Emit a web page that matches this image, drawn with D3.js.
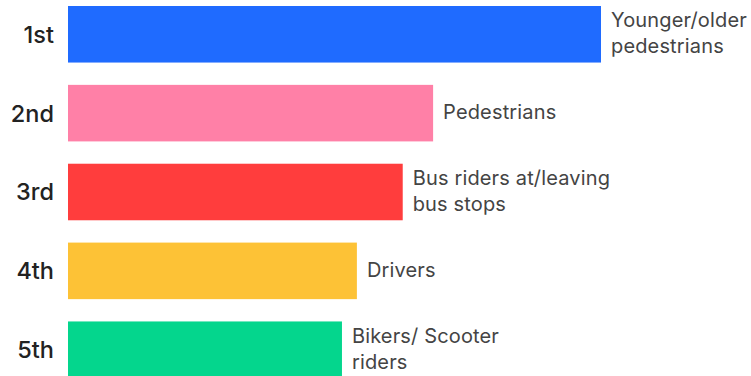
<!DOCTYPE html>
<html>
<head>
<meta charset="utf-8">
<script src="https://cdn.jsdelivr.net/npm/d3@7"></script>
<style>
  html, body { margin: 0; padding: 0; background: #ffffff; }
  svg { display: block; }
</style>
</head>
<body>
<svg id="chart" width="751" height="376"></svg>
<script>
// Ranking of road users, longest bar = highest rank
const ranks = ["1st", "2nd", "3rd", "4th", "5th"];
const groups = [
  ["Younger/older", "pedestrians"],
  ["Pedestrians"],
  ["Bus riders at/leaving", "bus stops"],
  ["Drivers"],
  ["Bikers/ Scooter", "riders"]
];
const scores = [100, 68.5, 62.8, 54.2, 51.4];
const colors = ["#1f6bff", "#ff80a7", "#ff3d3d", "#fdc236", "#04d68d"];

const svg = d3.select("#chart");
const font = "Inter, 'Noto Sans', sans-serif";

const x = d3.scaleLinear().domain([0, 100]).range([68, 601]);
const y = d3.scaleBand().domain(ranks).range([6, 378]).paddingInner(0.283).paddingOuter(0);

const rows = ranks.map((r, i) => ({ rank: r, label: groups[i], value: scores[i], color: colors[i] }));

svg.selectAll("rect.bar")
  .data(rows)
  .join("rect")
  .attr("class", "bar")
  .attr("x", x(0))
  .attr("y", d => y(d.rank))
  .attr("width", d => x(d.value) - x(0))
  .attr("height", y.bandwidth())
  .attr("fill", d => d.color);

// Rank labels on the left
svg.selectAll("text.rank")
  .data(rows)
  .join("text")
  .attr("class", "rank")
  .attr("x", 54)
  .attr("y", d => y(d.rank) + y.bandwidth() / 2)
  .attr("dy", "0.36em")
  .attr("text-anchor", "end")
  .attr("font-family", font)
  .attr("font-size", 23.5)
  .attr("font-weight", 500)
  .attr("fill", "#222222")
  .text(d => d.rank);

// Category labels to the right of each bar
const lineH = 26;
const lbl = svg.selectAll("text.cat")
  .data(rows)
  .join("text")
  .attr("class", "cat")
  .attr("x", d => x(d.value) + 10)
  .attr("y", d => y(d.rank) + y.bandwidth() / 2 - (d.label.length - 1) * lineH / 2)
  .attr("font-family", font)
  .attr("font-size", 20)
  .attr("letter-spacing", 0.15)
  .attr("fill", "#444444");

lbl.selectAll("tspan")
  .data(d => d.label.map((t, j) => ({ t, j, x: x(d.value) + 10 })))
  .join("tspan")
  .attr("x", s => s.x)
  .attr("dy", s => s.j === 0 ? "0.3em" : lineH)
  .text(s => s.t);
</script>
</body>
</html>
